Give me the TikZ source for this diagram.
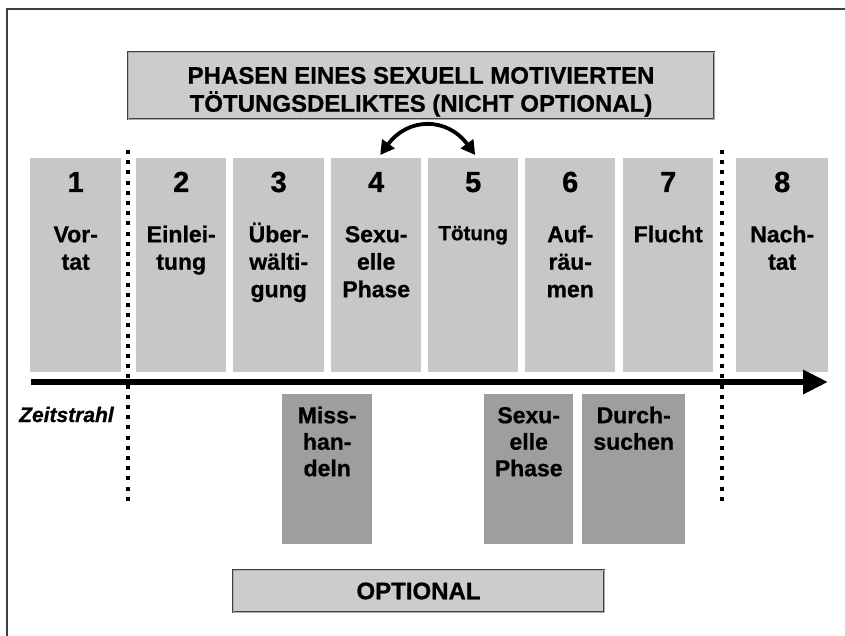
\documentclass[tikz,border=0pt]{standalone}
\usepackage{fontspec}
\setmainfont{Liberation Sans}[BoldFeatures={FakeBold=0.8},BoldItalicFeatures={FakeBold=0.8}]
\usetikzlibrary{arrows.meta}
\definecolor{upgray}{gray}{0.78}
\definecolor{lowgray}{gray}{0.62}
\definecolor{titlegray}{gray}{0.80}
\definecolor{framegray}{gray}{0.25}
\begin{document}
\begin{tikzpicture}[x=1pt,y=-1pt,
  phasebox/.style={fill=upgray, draw=none, minimum width=90pt, minimum height=214pt, inner sep=0pt, anchor=north west},
  optbox/.style={fill=lowgray, draw=none, minimum height=150pt, inner sep=0pt, anchor=north west},
  numtxt/.style={font=\fontsize{29}{29}\selectfont\bfseries, anchor=base, inner sep=0pt},
  lbl/.style={font=\fontsize{23}{27.5}\selectfont\bfseries, align=center, anchor=north, inner sep=0pt},
  smalllbl/.style={font=\fontsize{20.5}{25}\selectfont\bfseries, align=center, anchor=north, inner sep=0pt},
  framed/.style={fill=titlegray, draw=framegray, double=gray!65, double distance=0.8pt, line width=0.9pt, inner sep=0pt},
  dotline/.style={line width=4pt, dash pattern=on 4pt off 6.2pt},
  timeline/.style={line width=6.5pt, -{Triangle[length=25pt,width=23pt]}},
  swap/.style={line width=3.8pt, {Triangle[length=14pt,width=15pt]}-{Triangle[length=14pt,width=15pt]}}
]
\useasboundingbox (0,0) rectangle (845,636);
% outer frame
\draw[line width=1.2pt, framegray] (7,636) -- (7,9) -- (845,9);

% title
\node[framed, minimum width=586pt, minimum height=67pt] (title) at (421,85.5) {};
\node[font=\fontsize{24}{28}\selectfont\bfseries, align=center, anchor=north, inner sep=0pt] (titletxt)
  at ([yshift=-10pt]title.north) {\rule{0pt}{22pt}PHASEN EINES SEXUELL MOTIVIERTEN\\T\"OTUNGSDELIKTES (NICHT OPTIONAL)};

% phase boxes
\node[phasebox, minimum width=91pt] (b1) at (30,158) {};
\node[phasebox] (b2) at (136,158) {};
\node[phasebox, minimum width=91pt] (b3) at (233,158) {};
\node[phasebox] (b4) at (331,158) {};
\node[phasebox] (b5) at (428,158) {};
\node[phasebox] (b6) at (525,158) {};
\node[phasebox] (b7) at (623,158) {};
\node[phasebox, minimum width=92pt] (b8) at (736,158) {};

\foreach \i in {1,...,8}{
  \node[numtxt] (n\i) at ([yshift=-34pt]b\i.north) {\i};
}
\node[lbl] (l1) at ([yshift=-62pt]b1.north) {\rule{0pt}{22pt}Vor-\\tat};
\node[lbl] (l2) at ([yshift=-62pt]b2.north) {\rule{0pt}{22pt}Einlei-\\tung};
\node[lbl] (l3) at ([yshift=-62pt]b3.north) {\rule{0pt}{22pt}\"Uber-\\w\"alti-\\gung};
\node[lbl] (l4) at ([yshift=-62pt]b4.north) {\rule{0pt}{22pt}Sexu-\\elle\\Phase};
\node[smalllbl] (l5) at ([yshift=-60pt]b5.north) {\rule{0pt}{22pt}T\"otung};
\node[lbl] (l6) at ([yshift=-62pt]b6.north) {\rule{0pt}{22pt}Auf-\\r\"au-\\men};
\node[lbl] (l7) at ([yshift=-62pt]b7.north) {\rule{0pt}{22pt}Flucht};
\node[lbl] (l8) at ([yshift=-62pt]b8.north) {\rule{0pt}{22pt}Nach-\\tat};

% swap arrow between 4 and 5
\draw[swap] ([xshift=4pt,yshift=3pt]b4.north) .. controls +(28,-38) and +(-28,-38) .. ([xshift=2pt,yshift=3pt]b5.north);

% optional boxes
\node[optbox, minimum width=90pt] (o1) at (282,394) {};
\node[optbox, minimum width=89pt] (o2) at (484,394) {};
\node[optbox, minimum width=103pt] (o3) at (582,394) {};
\node[lbl, font=\fontsize{23}{26.5}\selectfont\bfseries] (ol1) at ([yshift=-7pt]o1.north) {\rule{0pt}{22pt}Miss-\\han-\\deln};
\node[lbl, font=\fontsize{23}{26.5}\selectfont\bfseries] (ol2) at ([yshift=-7pt]o2.north) {\rule{0pt}{22pt}Sexu-\\elle\\Phase};
\node[lbl, font=\fontsize{23}{26.5}\selectfont\bfseries] (ol3) at ([yshift=-7pt]o3.north) {\rule{0pt}{22pt}Durch-\\suchen};

% dotted separators
\coordinate (d1a) at (128,150);
\coordinate (d1b) at (128,505);
\coordinate (d2a) at (722,150);
\coordinate (d2b) at (722,505);
\draw[dotline] (d1a) -- (d1b);
\draw[dotline] (d2a) -- (d2b);

% timeline
\coordinate (t0) at (31,382);
\coordinate (t1) at (828,382);
\draw[timeline] (t0) -- (t1);
\node[anchor=base west, inner sep=0pt, font=\fontsize{21}{21}\selectfont\bfseries\itshape] (zeit) at (19,422) {Zeitstrahl};

% optional label
\node[framed, minimum width=371pt, minimum height=42pt, font=\fontsize{24}{24}\selectfont\bfseries] (optional) at (418.5,591) {OPTIONAL};
\end{tikzpicture}
\end{document}
